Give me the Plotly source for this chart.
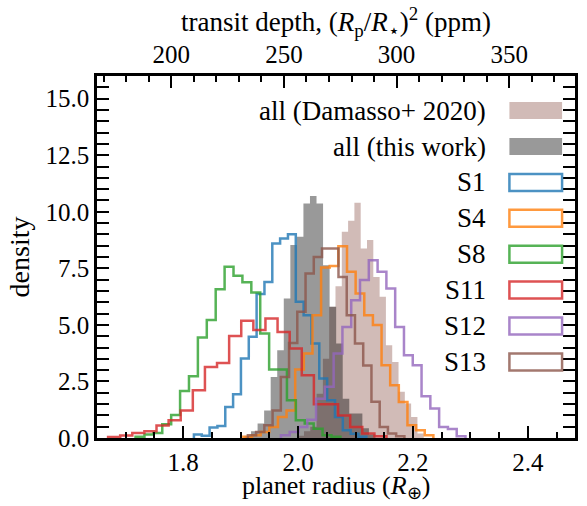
import plotly.graph_objects as go

# ---------------- data ----------------
# each histogram: first bin edge (planet radius, R_earth), bin width, densities
damasso_start, damasso_width = 1.9993, 0.01097
damasso_density = [0.1, 0.3, 0.5, 1.96, 3.5, 5.8, 6.71, 9.12, 9.6, 10.4, 8.38, 8.75,
                   7.12, 6.24, 4.1, 3.36, 2.04, 1.52, 0.93, 0.2]

thiswork_start, thiswork_width = 1.9067, 0.0114
thiswork_density = [0.1, 0.3, 0.64, 1.22, 2.7, 3.88, 6.17, 8.53, 8.9, 10.37, 10.7, 10.37,
                    7.64, 5.8, 4.18, 1.74, 1.08, 1.08, 0.43, 0.15]

s1_start, s1_width = 1.8187, 0.01364
s1_density = [0.16, 0.1, 0.46, 0.53, 1.37, 1.93, 3.51, 4.47, 6.36, 6.9, 8.6, 8.82, 9.01,
              6.02, 5.43, 4.18, 2.63, 1.67, 0.93, 0.34, 0.19, 0.05]

s4_start, s4_width = 1.9048, 0.01503
s4_density = [0.05, 0.12, 0.27, 0.49, 0.93, 1.22, 3.03, 3.73, 5.43, 7.54, 7.6, 8.48, 7.35,
              6.39, 5.43, 4.99, 3.22, 2.33, 1.59, 0.56, 0.34, 0.12]

s8_start, s8_width = 1.7171, 0.0155
s8_density = [0.05, 0.15, 0.22, 0.61, 1.02, 2.08, 2.73, 4.44, 5.21, 6.57, 7.57, 7.17, 6.88,
              6.43, 4.62, 3.03, 3.03, 1.67, 0.78, 0.64, 0.41, 0.12, 0.05]

s11_start, s11_width = 1.6693, 0.02107
s11_density = [0.04, 0.11, 0.22, 0.3, 0.55, 0.78, 1.22, 2.11, 3.14, 3.32, 4.51, 5.18, 4.77,
               5.28, 4.69, 3.96, 2.77, 1.49, 1.49, 1.0, 0.49, 0.2, 0.08]

s12_start, s12_width = 1.9701, 0.0153
s12_density = [0.12, 0.27, 0.49, 0.81, 1.74, 2.26, 3.73, 4.91, 6.09, 6.98, 7.86, 7.35, 6.61,
               4.91, 3.66, 3.22, 1.85, 1.3, 0.49, 0.4, 0.08]

s13_start, s13_width = 1.9126, 0.01434
s13_density = [0.12, 0.27, 0.56, 1.22, 2.7, 4.2, 5.58, 7.27, 8.0, 8.38, 8.38, 7.12, 5.43,
               4.18, 3.2, 1.6, 0.49, 0.2, 0.08]

filled_labels = ["all (Damasso+ 2020)", "all (this work)"]
step_labels = ["S1", "S4", "S8", "S11", "S12", "S13"]

radius_range = [1.65, 2.482]
depth_range = [167.0, 379.2]       # top axis (ppm), linear twin of the bottom axis
density_range = [0, 16]

top_title = "transit depth, (<i>R</i><sub>p</sub>/<i>R</i><sub>⋆</sub>)<sup>2</sup> (ppm)"
bottom_title = "planet radius (<i>R</i><sub>⊕</sub>)"
y_title = "density"

# ---------------- styles ----------------
FONT = "Liberation Serif"
damasso_fill = "rgba(140,86,75,0.4)"
thiswork_fill = "rgba(0,0,0,0.4)"
step_colors = ["rgba(31,119,180,0.8)", "rgba(255,127,14,0.8)", "rgba(44,160,44,0.8)",
               "rgba(214,39,40,0.8)", "rgba(148,103,189,0.8)", "rgba(140,86,75,0.8)"]


def step_xy(start, width, h):
    edges = [start + i * width for i in range(len(h) + 1)]
    x = [edges[0]] + edges
    y = [0] + list(h) + [0]
    return x, y


fig = go.Figure()

for (st, w, h), col in zip([(damasso_start, damasso_width, damasso_density),
                            (thiswork_start, thiswork_width, thiswork_density)],
                           [damasso_fill, thiswork_fill]):
    x, y = step_xy(st, w, h)
    fig.add_trace(go.Scatter(x=x, y=y, mode="lines", line=dict(width=0, shape="hv"),
                             fill="tozeroy", fillcolor=col, hoverinfo="skip",
                             showlegend=False))

series = [(s1_start, s1_width, s1_density), (s4_start, s4_width, s4_density),
          (s8_start, s8_width, s8_density), (s11_start, s11_width, s11_density),
          (s12_start, s12_width, s12_density), (s13_start, s13_width, s13_density)]
for (st, w, h), col, lab in zip(series, step_colors, step_labels):
    x, y = step_xy(st, w, h)
    fig.add_trace(go.Scatter(x=x, y=y, mode="lines", name=lab,
                             line=dict(color=col, width=2.5, shape="hv"),
                             showlegend=False))

# invisible helper trace so that the top (ppm) axis is drawn
fig.add_trace(go.Scatter(x=depth_range, y=density_range, xaxis="x2", mode="markers",
                         marker=dict(opacity=0), hoverinfo="skip", showlegend=False))

# ---------------- manual legend (text left of patch, right aligned) ----------------
L, R_, T, B = 97, 9, 76, 68
W, H = 587, 506
pw, ph = W - L - R_, H - T - B


def px_to_paper(px, py):
    return (px - L) / pw, (H - B - py) / ph


legend_labels = filled_labels + step_labels
first_center, spacing = 110.6, 35.9
text_right, patch_l, patch_r, patch_half = 490, 512, 565, 8.5
for i, lab in enumerate(legend_labels):
    cy = first_center + i * spacing
    tx, ty = px_to_paper(text_right, cy)
    fig.add_annotation(x=tx, y=ty, xref="paper", yref="paper", text=lab, showarrow=False,
                       xanchor="right", yanchor="middle",
                       font=dict(family=FONT, size=27, color="black"))
    x0, y0 = px_to_paper(patch_l, cy + patch_half)
    x1, y1 = px_to_paper(patch_r, cy - patch_half)
    if i < 2:
        fig.add_shape(type="rect", xref="paper", yref="paper", x0=x0, x1=x1, y0=y0, y1=y1,
                      fillcolor=[damasso_fill, thiswork_fill][i], line=dict(width=0))
    else:
        fig.add_shape(type="rect", xref="paper", yref="paper", x0=x0, x1=x1, y0=y0, y1=y1,
                      fillcolor="rgba(0,0,0,0)", line=dict(color=step_colors[i - 2], width=2.5))

# axis titles placed as annotations (centred on the plot)
tx, ty = px_to_paper(L + pw / 2, 22)
fig.add_annotation(x=tx, y=ty, xref="paper", yref="paper", text=top_title, showarrow=False,
                   xanchor="center", yanchor="middle",
                   font=dict(family=FONT, size=27, color="black"))
bx, by = px_to_paper(L + pw / 2, 505)
fig.add_annotation(x=bx, y=by, xref="paper", yref="paper", text=bottom_title, showarrow=False,
                   xanchor="center", yanchor="bottom",
                   font=dict(family=FONT, size=26, color="black"))

axis_common = dict(showline=True, linecolor="black", linewidth=2.5, showgrid=False,
                   zeroline=False, ticks="inside", tickcolor="black", tickwidth=2,
                   ticklen=12, tickfont=dict(family=FONT, size=25, color="black"))

fig.update_layout(
    width=W, height=H, margin=dict(l=L, r=R_, t=T, b=B),
    paper_bgcolor="white", plot_bgcolor="white", showlegend=False,
    font=dict(family=FONT, size=25, color="black"),
    xaxis=dict(range=radius_range, dtick=0.2, tick0=0, tickformat=".1f", mirror=True,
               minor=dict(dtick=0.05, tick0=0, ticks="inside", ticklen=6, tickwidth=1.5,
                          tickcolor="black"),
               **axis_common),
    xaxis2=dict(range=depth_range, overlaying="x", side="top", dtick=50, tick0=0,
                minor=dict(dtick=10, tick0=0, ticks="inside", ticklen=6, tickwidth=1.5,
                           tickcolor="black"),
                **axis_common),
    yaxis=dict(range=density_range, dtick=2.5, tick0=0, tickformat=".1f", mirror="allticks",
               title=dict(text=y_title, font=dict(family=FONT, size=28), standoff=8),
               minor=dict(dtick=0.5, tick0=0, ticks="inside", ticklen=6, tickwidth=1.5,
                          tickcolor="black"),
               **axis_common),
)

fig.write_html("out.html")
